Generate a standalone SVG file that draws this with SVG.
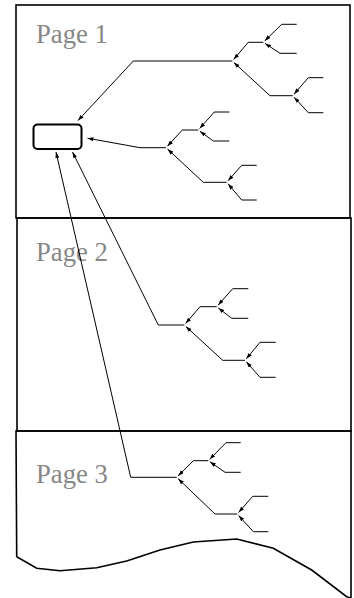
<svg xmlns="http://www.w3.org/2000/svg" width="354" height="598" viewBox="0 0 354 598">
<style>
.page{fill:none;stroke:#000;stroke-width:1.6}
.lbl{font-family:"Liberation Serif","Times New Roman",serif;font-size:26.7px;fill:#878787}
.c{fill:none;stroke:#000;stroke-width:1;marker-end:url(#ah)}
.box{fill:#fff;stroke:#000;stroke-width:2}
</style>
<defs>
<marker id="ah" markerUnits="userSpaceOnUse" markerWidth="7" markerHeight="5" refX="6" refY="2" orient="auto">
<path d="M0,0 L6,2 L0,4 Z" fill="#000"/>
</marker>
</defs>
<rect fill="#fff" width="354" height="598"/>
<g id="page1">
<rect class="page" x="16" y="5" width="334" height="213"/>
<text class="lbl" x="36" y="43">Page 1</text>
</g>
<g id="page2">
<rect class="page" x="17" y="218" width="334" height="213"/>
<text class="lbl" x="36" y="260.5">Page 2</text>
</g>
<g id="page3">
<path class="page" d="M16.7,556.7 L16,431 H351 V598 M351,598 L346.7,596.7 L311.7,570 L273.3,548.3 L236.7,539 L193.3,542 L160,550 L126.7,561 L96.7,567.7 L60,570.7 L36.7,568.3 L16.7,556.7"/>
<text class="lbl" x="36" y="483">Page 3</text>
</g>
<g id="target">
<rect class="box" x="33.5" y="124.5" width="48" height="24.5" rx="4"/>
</g>
<g id="connectors">
<!-- tree A -->
<path class="c" d="M296.7,24.3 H281.7 L264.7,40.9"/>
<path class="c" d="M296.7,53.3 H280 L265,43.4"/>
<path class="c" d="M263.3,42.3 H248.3 L233.6,59.5"/>
<path class="c" d="M323.3,77.7 H308.3 L294,94.2"/>
<path class="c" d="M323.3,112.7 H308.3 L294.1,97.2"/>
<path class="c" d="M292.7,95.7 H270 L233.8,62.4"/>
<path class="c" d="M232.3,61 H133.3 L78,120.5"/>
<!-- tree B -->
<path class="c" d="M229.3,112 H214.3 L199.6,128.5"/>
<path class="c" d="M229.3,141 H213.3 L199.9,131.2"/>
<path class="c" d="M198.3,130 H182.3 L167.4,146.2"/>
<path class="c" d="M256.7,165.3 H241.7 L228,180.8"/>
<path class="c" d="M256.7,200 H241.7 L228,183.8"/>
<path class="c" d="M226.7,182.3 H203.3 L167.5,149.1"/>
<path class="c" d="M166,147.7 H140 L87.5,138.2"/>
<!-- tree C -->
<path class="c" d="M248.3,288.7 H232.7 L218,305.2"/>
<path class="c" d="M248.3,318.3 H231.7 L218.3,307.9"/>
<path class="c" d="M216.7,306.7 H200 L185.6,323.5"/>
<path class="c" d="M275.7,342.3 H260 L246.3,358.8"/>
<path class="c" d="M275.7,377.3 H260 L246.3,361.8"/>
<path class="c" d="M245,360.3 H222.7 L185.8,326.4"/>
<path class="c" d="M184.3,325 H158.3 L72.5,152"/>
<!-- tree D -->
<path class="c" d="M240.7,442.7 H226 L209.7,459.3"/>
<path class="c" d="M240.7,472.3 H225 L210,461.8"/>
<path class="c" d="M208.3,460.7 H193.3 L178.1,475.9"/>
<path class="c" d="M268.3,496.3 H252.7 L238.6,512.5"/>
<path class="c" d="M268.3,531.7 H253.3 L238.6,515.5"/>
<path class="c" d="M237.3,514 H215 L178.1,478.7"/>
<path class="c" d="M176.7,477.3 H130.7 L56,152"/>
</g>
</svg>
